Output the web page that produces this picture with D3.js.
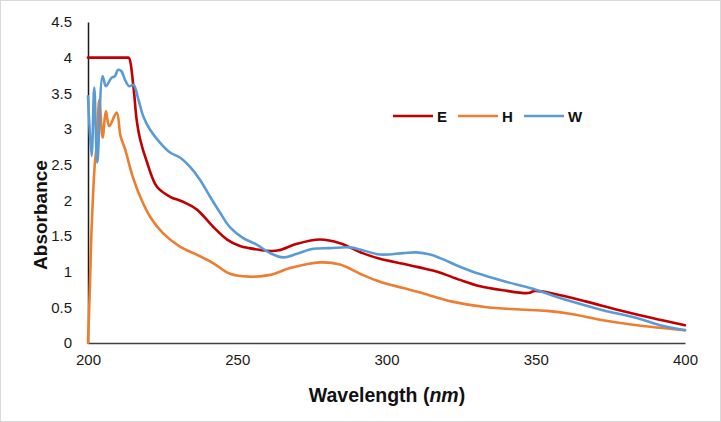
<!DOCTYPE html>
<html><head><meta charset="utf-8">
<script src="https://cdn.jsdelivr.net/npm/d3@7"></script>
<style>body{margin:0;background:#fff}svg{display:block}</style>
</head><body>
<svg id="c" width="721" height="422"></svg>
<script>
const xTicks = [200, 250, 300, 350, 400];
const yTicks = [0, 0.5, 1, 1.5, 2, 2.5, 3, 3.5, 4, 4.5];
const seriesNames = ["E", "H", "W"];
const seriesColors = ["#C00000", "#ED7D31", "#5B9BD5"];

const eWave = [200,213,213.7,215.2,216.3,217.5,219.8,223.1,227.5,231.8,236.5,241.9,246.6,250.9,254,261,264,270,277.7,284.4,292,297.8,305.6,311,317,324.6,331,339,347.5,349.7,356,367,378,389,400];
const eAbs  = [4,4,4,3.6,3.13,2.85,2.53,2.19,2.05,1.98,1.87,1.63,1.45,1.36,1.33,1.29,1.30,1.39,1.45,1.40,1.26,1.18,1.11,1.06,1.00,0.885,0.80,0.74,0.70,0.73,0.69,0.58,0.46,0.35,0.25];

const hWave = [200,200.6,201.2,202.3,202.9,203.8,204.9,206,207.1,209.6,210.9,212.4,215,218,220.8,225.1,230.8,236.4,241.9,247.6,254,261,267.7,277.7,284.4,292,297.8,305.6,311,322,333.6,344.7,353.8,361.5,372.5,383.9,400];
const hAbs  = [0,0.74,1.59,2.52,2.76,3.41,2.88,3.25,3.04,3.23,2.90,2.72,2.33,2.0,1.77,1.54,1.35,1.24,1.12,0.97,0.93,0.955,1.05,1.13,1.10,0.955,0.86,0.77,0.71,0.58,0.50,0.47,0.45,0.41,0.32,0.25,0.18];

const wWave = [200,201.2,202.1,203.1,204.9,206,207.9,209,210.1,211.2,212.4,213.8,215.2,216.9,218.5,220.8,224.1,227.5,230.8,234.2,237.5,240.9,244.2,247.6,252,256.5,261,265.4,270,275.4,281,287.7,292,297.8,305.6,310,314.6,318,324.6,331,340,349,356,363.8,372.5,383.9,391.6,400];
const wAbs  = [3.46,2.62,3.58,2.53,3.74,3.60,3.72,3.74,3.83,3.81,3.69,3.60,3.62,3.41,3.18,2.99,2.81,2.67,2.60,2.47,2.29,2.05,1.83,1.62,1.47,1.38,1.26,1.20,1.25,1.32,1.33,1.34,1.30,1.24,1.26,1.27,1.24,1.19,1.07,0.97,0.86,0.76,0.66,0.56,0.46,0.35,0.25,0.18];

const series = [
  {name: seriesNames[0], color: seriesColors[0], pts: eWave.map((w,i)=>[w,eAbs[i]])},
  {name: seriesNames[1], color: seriesColors[1], pts: hWave.map((w,i)=>[w,hAbs[i]])},
  {name: seriesNames[2], color: seriesColors[2], pts: wWave.map((w,i)=>[w,wAbs[i]])}
];

const svg = d3.select("#c");
svg.append("rect").attr("x",0.5).attr("y",0.5).attr("width",720).attr("height",421)
  .attr("fill","#fff").attr("stroke","#D9D9D9");

const x = d3.scaleLinear().domain([200,400]).range([88,685]);
const y = d3.scaleLinear().domain([0,4.5]).range([343,22]);

const font = "'Liberation Sans', Arial, sans-serif";

// axes
const xAxis = svg.append("g").attr("transform","translate(0,343)")
  .call(d3.axisBottom(x).tickValues(xTicks).tickSize(0).tickPadding(11).tickFormat(d3.format("d")));
xAxis.select(".domain").attr("stroke","#404040").attr("stroke-width",1.5);
xAxis.selectAll("text").attr("font-family",font).attr("font-size",15).attr("fill","#1a1a1a");

const yAxis = svg.append("g").attr("transform","translate(88,0)")
  .call(d3.axisLeft(y).tickValues(yTicks).tickSize(0).tickPadding(16).tickFormat(d=>String(d)));
yAxis.select(".domain").attr("stroke","#1a1a1a").attr("stroke-width",1.5);
yAxis.selectAll("text").attr("font-family",font).attr("font-size",15).attr("fill","#1a1a1a");

// lines
const line = d3.line().x(d=>x(d[0])).y(d=>y(d[1])).curve(d3.curveCatmullRom.alpha(0.5));
svg.append("g").selectAll("path").data(series).join("path")
  .attr("d",d=>line(d.pts)).attr("fill","none")
  .attr("stroke",d=>d.color).attr("stroke-width",2.6)
  .attr("stroke-linejoin","round").attr("stroke-linecap","round");

// legend
const legX = [393, 458, 524];
const leg = svg.append("g").selectAll("g").data(series).join("g")
  .attr("transform",(d,i)=>`translate(${legX[i]},116)`);
leg.append("line").attr("x1",0).attr("x2",40).attr("y1",0).attr("y2",0)
  .attr("stroke",d=>d.color).attr("stroke-width",2.6);
leg.append("text").attr("x",44).attr("y",5.5).text(d=>d.name)
  .attr("font-family",font).attr("font-weight","bold").attr("font-size",15).attr("fill","#111");

// titles
svg.append("text").attr("transform","translate(47,215) rotate(-90)")
  .attr("text-anchor","middle").attr("font-family",font).attr("font-weight","bold")
  .attr("font-size",19).attr("fill","#111").text("Absorbance");

const xt = svg.append("text").attr("x",387).attr("y",402)
  .attr("text-anchor","middle").attr("font-family",font).attr("font-weight","bold")
  .attr("font-size",19.5).attr("fill","#111");
xt.append("tspan").text("Wavelength (");
xt.append("tspan").attr("font-style","italic").text("nm");
xt.append("tspan").text(")");
</script>
</body></html>
